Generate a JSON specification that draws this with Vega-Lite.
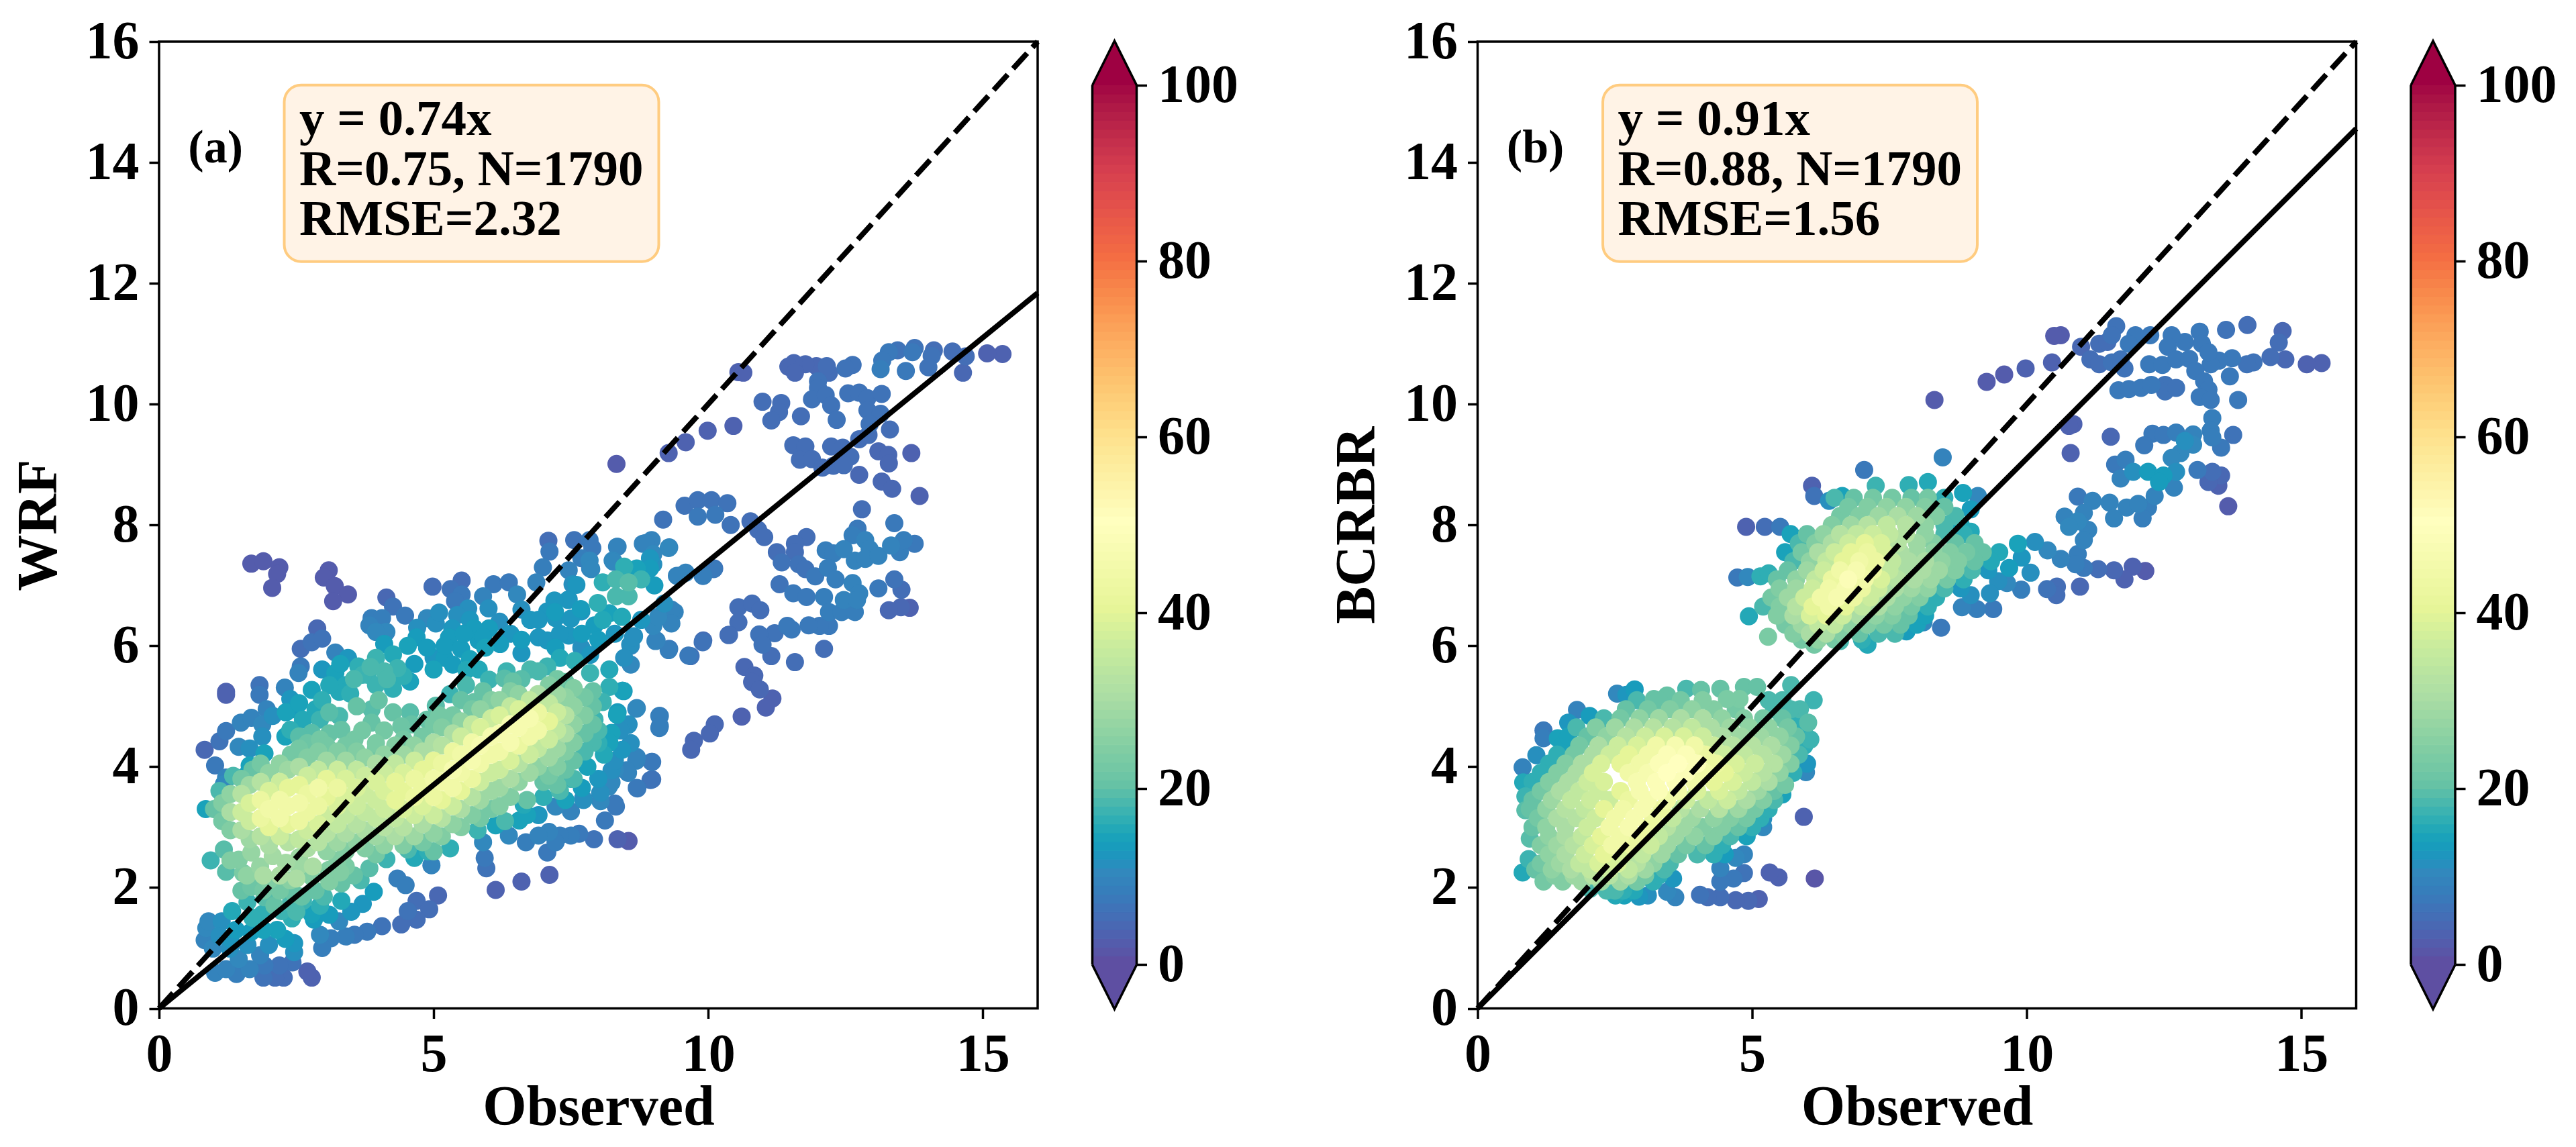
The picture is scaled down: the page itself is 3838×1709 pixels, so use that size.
{
"$schema":"https://vega.github.io/schema/vega-lite/v6.json",
"background":"white",
"padding":{"left":14,"top":20,"right":0,"bottom":0},
"bounds":"flush",
"spacing":81.5,
"config":{
"axis":{"labelFont":"Liberation Serif","labelFontWeight":"bold","labelFontSize":80,"labelColor":"#000","titleFont":"Liberation Serif","titleFontWeight":"bold","titleFontSize":84,"titleColor":"#000","tickColor":"#000","tickSize":15,"tickWidth":3.5,"grid":false,"domain":false,"labelOverlap":false,"labelFlush":false,"labelPadding":15},
"text":{"font":"Liberation Serif","fontWeight":"bold","color":"#000"}
},
"datasets":{
"a":[
{"x":15.36,"y":10.83,"d":3},{"x":15.08,"y":10.84,"d":3},{"x":14.69,"y":10.79,"d":5},{"x":14.45,"y":10.87,"d":5},{"x":14.64,"y":10.52,"d":4},{"x":14.11,"y":10.89,"d":5},{"x":14.07,"y":10.8,"d":6},{"x":14.01,"y":10.61,"d":6},{"x":13.76,"y":10.93,"d":6},{"x":13.72,"y":10.86,"d":7},{"x":13.6,"y":10.55,"d":7},{"x":13.45,"y":10.89,"d":6},{"x":13.29,"y":10.86,"d":7},{"x":13.17,"y":10.72,"d":7},{"x":13.14,"y":10.58,"d":8},{"x":12.63,"y":10.65,"d":6},{"x":12.5,"y":10.59,"d":6},{"x":12.2,"y":10.52,"d":5},{"x":12.16,"y":10.63,"d":5},{"x":11.97,"y":10.63,"d":4},{"x":11.77,"y":10.66,"d":4},{"x":11.56,"y":10.68,"d":4},{"x":11.46,"y":10.62,"d":4},{"x":11.58,"y":10.52,"d":4},{"x":12.0,"y":10.38,"d":6},{"x":12.0,"y":10.27,"d":6},{"x":10.55,"y":10.53,"d":3},{"x":10.64,"y":10.52,"d":3},
{"x":10.99,"y":10.04,"d":5},{"x":11.33,"y":10.02,"d":5},{"x":11.29,"y":9.87,"d":5},{"x":11.15,"y":9.73,"d":5},{"x":11.69,"y":9.8,"d":5},{"x":11.89,"y":10.08,"d":6},{"x":12.14,"y":10.15,"d":6},{"x":12.24,"y":9.98,"d":6},{"x":12.34,"y":9.74,"d":6},{"x":12.55,"y":10.18,"d":6},{"x":12.75,"y":10.19,"d":6},{"x":12.9,"y":10.1,"d":6},{"x":13.16,"y":10.17,"d":6},{"x":12.9,"y":9.9,"d":6},{"x":13.14,"y":9.84,"d":6},{"x":12.94,"y":9.67,"d":6},{"x":13.31,"y":9.58,"d":5},{"x":10.46,"y":9.64,"d":3},{"x":9.99,"y":9.56,"d":3},{"x":9.59,"y":9.37,"d":3},{"x":9.28,"y":9.19,"d":3},{"x":8.33,"y":9.01,"d":2},
{"x":11.55,"y":9.32,"d":5},{"x":11.77,"y":9.3,"d":5},{"x":11.67,"y":9.08,"d":5},{"x":11.89,"y":9.09,"d":5},{"x":12.08,"y":8.95,"d":5},{"x":12.28,"y":8.98,"d":5},{"x":12.24,"y":9.3,"d":5},{"x":12.45,"y":9.28,"d":5},{"x":12.59,"y":9.13,"d":5},{"x":12.47,"y":8.99,"d":5},{"x":12.75,"y":8.83,"d":4},{"x":12.75,"y":9.42,"d":5},{"x":12.92,"y":9.49,"d":5},{"x":13.1,"y":9.22,"d":4},{"x":13.28,"y":9.16,"d":4},{"x":13.29,"y":9.02,"d":4},{"x":13.7,"y":9.19,"d":3},{"x":13.16,"y":8.72,"d":4},{"x":13.35,"y":8.6,"d":4},{"x":13.85,"y":8.48,"d":3},
{"x":9.57,"y":8.32,"d":6},{"x":9.81,"y":8.41,"d":6},{"x":9.81,"y":8.14,"d":7},{"x":10.06,"y":8.41,"d":6},{"x":10.13,"y":8.17,"d":7},{"x":10.35,"y":8.36,"d":6},{"x":9.18,"y":8.09,"d":6},{"x":10.41,"y":8.0,"d":6},{"x":10.77,"y":8.06,"d":5},{"x":10.91,"y":7.92,"d":5},{"x":11.02,"y":7.8,"d":5},{"x":12.8,"y":8.26,"d":5},{"x":13.39,"y":8.03,"d":7},{"x":12.72,"y":7.94,"d":7},{"x":12.63,"y":7.83,"d":8},{"x":11.79,"y":7.8,"d":5},{"x":11.58,"y":7.69,"d":5},{"x":11.25,"y":7.55,"d":5},{"x":11.58,"y":7.55,"d":5},{"x":11.34,"y":7.38,"d":6},{"x":11.65,"y":7.35,"d":6},{"x":11.77,"y":7.27,"d":6},{"x":11.95,"y":7.15,"d":7},{"x":12.14,"y":7.58,"d":8},{"x":12.28,"y":7.53,"d":8},{"x":12.47,"y":7.6,"d":9},{"x":12.86,"y":7.75,"d":9},{"x":12.94,"y":7.6,"d":9},{"x":12.67,"y":7.41,"d":9},{"x":12.86,"y":7.44,"d":9},{"x":13.1,"y":7.49,"d":9},{"x":13.33,"y":7.66,"d":9},{"x":13.49,"y":7.55,"d":8},{"x":13.56,"y":7.75,"d":8},{"x":13.76,"y":7.69,"d":7},{"x":12.18,"y":7.29,"d":8},{"x":12.32,"y":7.1,"d":8},{"x":12.63,"y":7.04,"d":9},{"x":12.75,"y":6.87,"d":9},{"x":11.3,"y":7.02,"d":6},{"x":11.55,"y":6.87,"d":7},{"x":11.79,"y":6.81,"d":7},{"x":12.11,"y":6.81,"d":8},{"x":12.47,"y":6.76,"d":9},{"x":12.71,"y":6.76,"d":9},{"x":13.1,"y":6.95,"d":7},{"x":13.39,"y":7.1,"d":6},{"x":13.52,"y":6.93,"d":5},{"x":13.51,"y":6.64,"d":4},{"x":13.29,"y":6.59,"d":4},{"x":13.67,"y":6.63,"d":3},
{"x":10.55,"y":6.64,"d":5},{"x":10.8,"y":6.7,"d":5},{"x":10.95,"y":6.59,"d":5},{"x":10.55,"y":6.39,"d":5},{"x":10.37,"y":6.18,"d":5},{"x":9.9,"y":6.06,"d":6},{"x":12.2,"y":6.56,"d":8},{"x":12.43,"y":6.56,"d":8},{"x":12.67,"y":6.56,"d":8},{"x":12.2,"y":6.33,"d":7},{"x":12.03,"y":6.33,"d":7},{"x":11.83,"y":6.34,"d":7},{"x":11.52,"y":6.27,"d":7},{"x":11.44,"y":6.33,"d":7},{"x":11.21,"y":6.21,"d":6},{"x":10.93,"y":6.19,"d":6},{"x":10.99,"y":6.02,"d":6},{"x":11.15,"y":5.83,"d":5},{"x":11.58,"y":5.73,"d":5},{"x":12.11,"y":5.95,"d":5},{"x":10.66,"y":5.65,"d":4},{"x":10.84,"y":5.51,"d":4},{"x":10.8,"y":5.4,"d":4},{"x":10.94,"y":5.28,"d":4},{"x":11.17,"y":5.13,"d":3},{"x":11.05,"y":4.98,"d":3},{"x":10.61,"y":4.83,"d":3},{"x":10.12,"y":4.7,"d":4},{"x":10.03,"y":4.55,"d":4},{"x":9.74,"y":4.43,"d":4},{"x":9.69,"y":4.28,"d":4},
{"x":10.1,"y":7.27,"d":7},{"x":9.9,"y":7.16,"d":8},{"x":9.59,"y":7.21,"d":9},{"x":9.43,"y":7.16,"d":9},{"x":9.28,"y":7.62,"d":10},{"x":8.97,"y":7.75,"d":9},{"x":8.81,"y":7.69,"d":9},{"x":9.0,"y":7.52,"d":10},{"x":9.0,"y":7.35,"d":11},{"x":8.34,"y":7.64,"d":9},{"x":8.26,"y":7.41,"d":10},{"x":7.84,"y":7.75,"d":7},{"x":7.56,"y":7.75,"d":6},{"x":7.09,"y":7.74,"d":5},{"x":7.84,"y":7.41,"d":10},{"x":7.87,"y":7.27,"d":10},{"x":7.45,"y":6.76,"d":12},{"x":7.6,"y":7.01,"d":12},{"x":7.68,"y":6.61,"d":13},{"x":7.21,"y":6.56,"d":13},{"x":9.39,"y":6.56,"d":9},{"x":9.2,"y":6.7,"d":11},{"x":9.0,"y":6.33,"d":10},{"x":9.04,"y":6.08,"d":9},{"x":8.65,"y":6.16,"d":11},{"x":8.58,"y":6.02,"d":11},{"x":9.28,"y":5.93,"d":8},{"x":9.64,"y":5.84,"d":7},
{"x":8.69,"y":4.96,"d":10},{"x":9.11,"y":4.84,"d":8},{"x":9.11,"y":4.64,"d":8},{"x":8.44,"y":5.26,"d":14},{"x":8.54,"y":4.69,"d":11},{"x":8.34,"y":4.86,"d":14},{"x":8.97,"y":4.08,"d":7},{"x":8.95,"y":3.78,"d":6},{"x":8.71,"y":3.64,"d":7},{"x":8.69,"y":4.1,"d":9},{"x":8.54,"y":3.9,"d":9},{"x":8.3,"y":3.95,"d":10},{"x":8.19,"y":3.67,"d":10},{"x":8.03,"y":3.56,"d":10},{"x":7.72,"y":3.47,"d":10},{"x":8.3,"y":3.39,"d":7},
{"x":8.55,"y":7.05,"d":19},{"x":8.32,"y":7.1,"d":18},{"x":8.78,"y":7.1,"d":17},{"x":8.08,"y":7.05,"d":16},{"x":8.32,"y":6.82,"d":18},{"x":8.55,"y":6.82,"d":18},{"x":8.7,"y":7.28,"d":14},{"x":8.47,"y":7.31,"d":16},{"x":8.94,"y":7.28,"d":13},{"x":9.02,"y":7.0,"d":13},{"x":7.99,"y":6.71,"d":16},{"x":8.08,"y":6.43,"d":15},{"x":8.43,"y":6.48,"d":15},{"x":8.78,"y":6.43,"d":12},{"x":9.09,"y":6.48,"d":10},{"x":9.33,"y":6.6,"d":9},{"x":8.94,"y":7.45,"d":12},
{"x":1.68,"y":7.36,"d":2},{"x":1.9,"y":7.4,"d":2},{"x":2.19,"y":7.3,"d":2},{"x":2.15,"y":7.19,"d":2},{"x":2.06,"y":6.96,"d":2},{"x":3.09,"y":7.25,"d":2},{"x":3.0,"y":7.13,"d":2},{"x":3.2,"y":6.99,"d":2},{"x":3.44,"y":6.85,"d":2},{"x":3.17,"y":6.74,"d":2},{"x":4.14,"y":6.8,"d":4},{"x":4.26,"y":6.65,"d":6},{"x":4.48,"y":6.5,"d":7},{"x":4.98,"y":6.98,"d":5},{"x":5.51,"y":7.08,"d":5},{"x":5.31,"y":6.94,"d":6},{"x":5.51,"y":6.85,"d":7},{"x":5.39,"y":6.74,"d":7},{"x":6.09,"y":7.02,"d":7},{"x":6.37,"y":7.05,"d":7},{"x":5.9,"y":6.82,"d":9},{"x":6.52,"y":6.85,"d":10},{"x":6.0,"y":6.62,"d":11},{"x":5.63,"y":6.62,"d":11},{"x":5.43,"y":6.51,"d":11},{"x":5.66,"y":6.43,"d":12},{"x":4.88,"y":6.46,"d":10},{"x":5.04,"y":6.37,"d":11},{"x":5.34,"y":6.29,"d":12},{"x":5.28,"y":6.14,"d":13},{"x":6.01,"y":6.29,"d":13},{"x":5.74,"y":6.29,"d":13},{"x":5.82,"y":6.09,"d":13},{"x":6.21,"y":6.03,"d":13},{"x":5.94,"y":5.97,"d":14},{"x":4.69,"y":6.14,"d":13},{"x":4.53,"y":6.0,"d":14},{"x":4.88,"y":5.97,"d":13},{"x":5.2,"y":5.8,"d":13},{"x":5.66,"y":5.78,"d":14},{"x":5.35,"y":5.69,"d":13},{"x":5.0,"y":5.61,"d":14},{"x":5.82,"y":5.61,"d":15},{"x":6.01,"y":5.44,"d":17},{"x":6.29,"y":5.46,"d":19},{"x":6.33,"y":5.58,"d":17},{"x":6.6,"y":5.88,"d":12},{"x":6.76,"y":5.61,"d":18},{"x":6.91,"y":5.58,"d":18},{"x":7.07,"y":5.66,"d":17},{"x":7.3,"y":5.8,"d":15},{"x":7.57,"y":5.75,"d":16},{"x":7.69,"y":5.97,"d":11},{"x":7.22,"y":5.97,"d":13},{"x":6.91,"y":6.14,"d":12},{"x":7.07,"y":6.09,"d":12},{"x":6.76,"y":6.43,"d":12},{"x":7.07,"y":6.57,"d":12},{"x":6.91,"y":6.43,"d":12},{"x":7.22,"y":6.46,"d":12},{"x":7.46,"y":6.17,"d":12},{"x":7.46,"y":6.77,"d":11},{"x":6.87,"y":7.05,"d":9},{"x":6.99,"y":7.3,"d":8},{"x":7.11,"y":7.56,"d":7},{"x":7.46,"y":7.25,"d":9},{"x":7.53,"y":7.02,"d":11},{"x":7.69,"y":7.45,"d":8},{"x":7.85,"y":7.28,"d":9},{"x":7.89,"y":7.62,"d":7},{"x":8.28,"y":7.39,"d":10},{"x":8.35,"y":7.64,"d":9},{"x":8.86,"y":7.7,"d":9},{"x":9.29,"y":7.63,"d":9},{"x":7.69,"y":6.57,"d":12},{"x":7.93,"y":6.34,"d":13},{"x":8.2,"y":6.54,"d":14},{"x":8.63,"y":6.14,"d":11},{"x":8.59,"y":6.0,"d":10},{"x":9.06,"y":6.09,"d":9},{"x":9.29,"y":5.95,"d":7},{"x":9.68,"y":5.83,"d":6},{"x":9.91,"y":6.09,"d":5},{"x":10.38,"y":6.18,"d":5},{"x":10.11,"y":7.28,"d":6},{"x":9.91,"y":7.16,"d":8},{"x":9.48,"y":7.16,"d":8},{"x":9.33,"y":6.37,"d":9},
{"x":0.83,"y":4.28,"d":4},{"x":1.1,"y":4.42,"d":6},{"x":1.22,"y":4.59,"d":7},{"x":1.49,"y":4.73,"d":9},{"x":1.68,"y":4.81,"d":9},{"x":1.88,"y":4.7,"d":10},{"x":1.88,"y":4.5,"d":11},{"x":1.45,"y":4.33,"d":10},{"x":1.65,"y":4.3,"d":11},{"x":1.92,"y":4.22,"d":14},{"x":1.02,"y":4.02,"d":7},{"x":1.22,"y":3.82,"d":9},{"x":1.18,"y":3.71,"d":10},{"x":1.65,"y":4.02,"d":14},{"x":1.61,"y":3.88,"d":14},{"x":1.96,"y":4.95,"d":9},{"x":2.07,"y":4.84,"d":11},{"x":1.22,"y":5.24,"d":3},{"x":1.22,"y":5.19,"d":3},{"x":1.83,"y":5.35,"d":6},{"x":1.83,"y":5.19,"d":7},{"x":2.29,"y":5.31,"d":9},{"x":2.39,"y":5.12,"d":12},{"x":2.47,"y":4.95,"d":13},{"x":2.78,"y":5.27,"d":14},{"x":2.97,"y":5.1,"d":16},{"x":2.58,"y":5.95,"d":5},{"x":2.78,"y":6.06,"d":6},{"x":2.97,"y":6.12,"d":6},{"x":2.88,"y":6.29,"d":4},{"x":2.58,"y":5.66,"d":7},{"x":2.54,"y":5.55,"d":9},{"x":3.21,"y":5.89,"d":9},{"x":2.97,"y":5.61,"d":12},{"x":3.21,"y":5.55,"d":14},{"x":3.44,"y":5.8,"d":12},{"x":3.4,"y":5.35,"d":15},{"x":3.28,"y":5.24,"d":15},{"x":3.63,"y":5.66,"d":16},{"x":3.95,"y":5.8,"d":17},{"x":4.26,"y":5.86,"d":15},{"x":3.79,"y":5.52,"d":17},{"x":4.1,"y":5.58,"d":18},{"x":4.34,"y":5.63,"d":17},{"x":3.95,"y":5.35,"d":17},{"x":4.26,"y":5.29,"d":16},{"x":4.57,"y":5.41,"d":14},{"x":3.48,"y":5.21,"d":16},{"x":3.71,"y":5.52,"d":17},{"x":4.1,"y":6.03,"d":13},{"x":3.87,"y":6.46,"d":8},{"x":3.83,"y":6.34,"d":9},{"x":4.06,"y":6.46,"d":8},{"x":4.14,"y":6.23,"d":10},{"x":3.95,"y":6.23,"d":10},
{"x":2.31,"y":4.9,"d":14},{"x":2.62,"y":4.78,"d":15},{"x":2.93,"y":4.78,"d":17},{"x":3.28,"y":4.84,"d":18},{"x":2.39,"y":4.61,"d":16},{"x":2.78,"y":4.56,"d":19},{"x":3.32,"y":4.61,"d":20},{"x":3.87,"y":4.95,"d":19},{"x":3.87,"y":4.73,"d":20},{"x":4.26,"y":4.9,"d":20},{"x":4.57,"y":4.9,"d":19},{"x":5.04,"y":5.01,"d":19},{"x":4.41,"y":4.67,"d":21},{"x":2.7,"y":4.39,"d":21},{"x":2.93,"y":4.45,"d":22},{"x":3.56,"y":4.45,"d":22},{"x":3.95,"y":4.39,"d":23},{"x":4.88,"y":4.78,"d":20},{"x":5.35,"y":4.78,"d":22},{"x":5.74,"y":5.07,"d":20},{"x":5.59,"y":5.35,"d":18},{"x":6.44,"y":5.41,"d":20},{"x":8.2,"y":5.61,"d":15},{"x":7.85,"y":5.55,"d":17},{"x":8.47,"y":5.8,"d":11},{"x":8.59,"y":5.69,"d":10},{"x":8.08,"y":5.07,"d":17},{"x":8.2,"y":5.32,"d":16},{"x":8.46,"y":5.25,"d":13},{"x":8.35,"y":4.9,"d":13},{"x":8.7,"y":4.97,"d":9},{"x":9.12,"y":4.84,"d":8},{"x":9.12,"y":4.67,"d":8},{"x":8.55,"y":4.7,"d":11},{"x":8.59,"y":4.39,"d":11},{"x":8.43,"y":4.28,"d":12},{"x":8.24,"y":4.56,"d":14},{"x":7.93,"y":4.78,"d":17},{"x":8.0,"y":4.39,"d":16},{"x":8.98,"y":4.08,"d":7},{"x":8.7,"y":4.16,"d":9},{"x":8.98,"y":3.79,"d":6},{"x":8.7,"y":3.65,"d":7},{"x":8.51,"y":3.94,"d":9},{"x":8.24,"y":3.94,"d":11},{"x":8.24,"y":3.74,"d":10},{"x":8.04,"y":3.57,"d":11},{"x":7.73,"y":3.45,"d":11},{"x":8.04,"y":3.43,"d":10},{"x":8.32,"y":3.34,"d":7},{"x":8.12,"y":3.11,"d":7},{"x":7.92,"y":2.8,"d":6},{"x":8.35,"y":2.8,"d":3},{"x":8.55,"y":2.77,"d":2},{"x":7.65,"y":2.89,"d":7},{"x":7.5,"y":3.26,"d":9},{"x":7.22,"y":3.34,"d":10},{"x":7.5,"y":2.86,"d":8},{"x":7.3,"y":2.86,"d":8},{"x":7.1,"y":2.92,"d":9},{"x":6.91,"y":2.86,"d":9},{"x":6.68,"y":2.75,"d":8},{"x":7.07,"y":2.58,"d":7},{"x":7.22,"y":2.75,"d":8},{"x":6.91,"y":3.2,"d":12},{"x":6.64,"y":3.37,"d":15},{"x":6.56,"y":3.11,"d":14},{"x":6.37,"y":2.86,"d":10},{"x":6.13,"y":3.03,"d":14},{"x":5.9,"y":2.75,"d":10},{"x":5.93,"y":2.49,"d":7},{"x":5.96,"y":2.32,"d":6},{"x":7.11,"y":2.21,"d":3},{"x":6.6,"y":2.1,"d":3},{"x":6.13,"y":1.96,"d":3},{"x":4.96,"y":2.37,"d":9},{"x":4.34,"y":2.15,"d":8},{"x":4.49,"y":2.04,"d":8},{"x":5.08,"y":1.87,"d":4},{"x":4.69,"y":1.78,"d":5},{"x":4.92,"y":1.64,"d":5},{"x":4.53,"y":1.61,"d":6},{"x":4.69,"y":1.47,"d":5},{"x":4.41,"y":1.39,"d":5},{"x":4.06,"y":1.36,"d":6},{"x":3.79,"y":1.27,"d":7},{"x":3.56,"y":1.22,"d":7},{"x":3.4,"y":1.19,"d":8},{"x":3.13,"y":1.16,"d":8},{"x":2.97,"y":1.0,"d":8},{"x":3.28,"y":1.44,"d":10},{"x":2.93,"y":1.22,"d":10},{"x":2.82,"y":1.47,"d":13},
{"x":2.78,"y":0.51,"d":3},{"x":2.7,"y":0.61,"d":3},{"x":2.27,"y":0.51,"d":5},{"x":2.43,"y":0.76,"d":6},{"x":2.11,"y":0.51,"d":5},{"x":1.9,"y":0.51,"d":6},{"x":2.19,"y":0.71,"d":6},{"x":1.92,"y":0.71,"d":7},{"x":1.41,"y":0.57,"d":8},{"x":1.02,"y":0.59,"d":9},{"x":1.65,"y":0.65,"d":9},{"x":1.22,"y":0.65,"d":9},{"x":0.83,"y":1.13,"d":9},{"x":0.86,"y":1.33,"d":10},{"x":0.9,"y":1.44,"d":10},{"x":1.14,"y":1.44,"d":11},{"x":0.98,"y":0.99,"d":10},{"x":1.29,"y":0.99,"d":11},{"x":1.61,"y":1.05,"d":11},{"x":2.0,"y":1.05,"d":11},{"x":1.45,"y":0.82,"d":10},{"x":1.84,"y":0.88,"d":9},{"x":2.46,"y":1.08,"d":12},{"x":2.46,"y":0.93,"d":11},{"x":2.15,"y":1.3,"d":14},{"x":2.42,"y":1.49,"d":16},{"x":1.68,"y":1.27,"d":13},{"x":1.33,"y":1.61,"d":15},{"x":1.61,"y":1.76,"d":17},{"x":1.92,"y":1.84,"d":19},{"x":1.88,"y":1.56,"d":16},{"x":2.23,"y":1.61,"d":17},{"x":2.62,"y":1.78,"d":17},{"x":2.93,"y":1.7,"d":16},{"x":3.32,"y":1.78,"d":15},{"x":3.71,"y":1.73,"d":12},{"x":3.91,"y":1.93,"d":13},{"x":2.78,"y":1.56,"d":14},
{"x":1.18,"y":2.63,"d":19},{"x":0.94,"y":2.45,"d":17},{"x":1.22,"y":2.26,"d":19},{"x":1.45,"y":2.46,"d":24},{"x":1.68,"y":2.58,"d":27},{"x":1.53,"y":2.24,"d":23},{"x":1.84,"y":2.35,"d":27},{"x":2.07,"y":2.52,"d":29},{"x":2.31,"y":2.41,"d":29},{"x":2.54,"y":2.35,"d":28},{"x":1.68,"y":2.01,"d":21},{"x":2.0,"y":2.12,"d":24},{"x":2.39,"y":2.12,"d":25},{"x":2.78,"y":2.18,"d":24},{"x":3.09,"y":2.29,"d":24},{"x":3.4,"y":2.35,"d":23},{"x":3.83,"y":2.32,"d":19},{"x":3.67,"y":2.12,"d":18},{"x":3.32,"y":2.07,"d":20},{"x":2.85,"y":1.95,"d":20},{"x":2.46,"y":1.9,"d":20},{"x":4.14,"y":2.47,"d":17},{"x":4.65,"y":2.49,"d":15},{"x":4.53,"y":2.63,"d":18},
{"x":1.0,"y":3.3,"d":20},{"x":0.85,"y":3.3,"d":14},{"x":1.1,"y":3.6,"d":18},{"x":1.3,"y":2.95,"d":24},{"x":1.3,"y":3.25,"d":30},{"x":1.3,"y":3.55,"d":26},{"x":1.35,"y":3.85,"d":18},{"x":1.65,"y":2.8,"d":28},{"x":1.65,"y":3.1,"d":36},{"x":1.65,"y":3.4,"d":38},{"x":1.65,"y":3.7,"d":28},{"x":1.7,"y":3.95,"d":20},{"x":2.0,"y":2.7,"d":30},{"x":2.0,"y":3.0,"d":40},{"x":2.0,"y":3.3,"d":44},{"x":2.0,"y":3.6,"d":38},{"x":2.0,"y":3.9,"d":26},{"x":2.35,"y":2.75,"d":32},{"x":2.35,"y":3.05,"d":40},{"x":2.35,"y":3.35,"d":44},{"x":2.35,"y":3.65,"d":40},{"x":2.35,"y":3.95,"d":28},{"x":2.4,"y":4.2,"d":22},{"x":2.7,"y":2.65,"d":30},{"x":2.7,"y":2.95,"d":36},{"x":2.7,"y":3.25,"d":42},{"x":2.7,"y":3.55,"d":42},{"x":2.7,"y":3.85,"d":36},{"x":2.7,"y":4.15,"d":24},{"x":3.05,"y":2.6,"d":26},{"x":3.05,"y":2.9,"d":32},{"x":3.05,"y":3.2,"d":36},{"x":3.05,"y":3.5,"d":40},{"x":3.05,"y":3.8,"d":40},{"x":3.05,"y":4.1,"d":28},{"x":3.05,"y":4.35,"d":22},{"x":3.4,"y":2.6,"d":24},{"x":3.4,"y":2.9,"d":30},{"x":3.4,"y":3.2,"d":34},{"x":3.4,"y":3.5,"d":38},{"x":3.4,"y":3.8,"d":38},{"x":3.4,"y":4.1,"d":28},{"x":3.4,"y":4.35,"d":22},{"x":3.75,"y":2.65,"d":24},{"x":3.75,"y":2.95,"d":30},{"x":3.75,"y":3.25,"d":34},{"x":3.75,"y":3.55,"d":36},{"x":3.75,"y":3.85,"d":36},{"x":3.75,"y":4.15,"d":26},{"x":4.1,"y":2.7,"d":26},{"x":4.1,"y":3.0,"d":32},{"x":4.1,"y":3.3,"d":36},{"x":4.1,"y":3.6,"d":38},{"x":4.1,"y":3.9,"d":36},{"x":4.1,"y":4.2,"d":26},{"x":4.45,"y":2.7,"d":24},{"x":4.45,"y":3.0,"d":32},{"x":4.45,"y":3.3,"d":38},{"x":4.45,"y":3.6,"d":40},{"x":4.45,"y":3.9,"d":38},{"x":4.45,"y":4.2,"d":28},{"x":4.45,"y":4.45,"d":22},{"x":4.8,"y":2.75,"d":22},{"x":4.8,"y":3.05,"d":30},{"x":4.8,"y":3.35,"d":38},{"x":4.8,"y":3.65,"d":42},{"x":4.8,"y":3.95,"d":40},{"x":4.8,"y":4.25,"d":30},{"x":4.8,"y":4.5,"d":22},{"x":5.15,"y":2.85,"d":24},{"x":5.15,"y":3.15,"d":32},{"x":5.15,"y":3.45,"d":40},{"x":5.15,"y":3.75,"d":44},{"x":5.15,"y":4.05,"d":42},{"x":5.15,"y":4.35,"d":32},{"x":5.15,"y":4.65,"d":24},{"x":5.5,"y":3.0,"d":24},{"x":5.5,"y":3.3,"d":30},{"x":5.5,"y":3.6,"d":40},{"x":5.5,"y":3.9,"d":44},{"x":5.5,"y":4.2,"d":44},{"x":5.5,"y":4.5,"d":36},{"x":5.5,"y":4.75,"d":26},{"x":5.85,"y":3.15,"d":22},{"x":5.85,"y":3.45,"d":28},{"x":5.85,"y":3.75,"d":36},{"x":5.85,"y":4.05,"d":44},{"x":5.85,"y":4.35,"d":46},{"x":5.85,"y":4.65,"d":38},{"x":5.85,"y":4.95,"d":26},{"x":6.2,"y":3.35,"d":24},{"x":6.2,"y":3.65,"d":28},{"x":6.2,"y":3.95,"d":36},{"x":6.2,"y":4.25,"d":44},{"x":6.2,"y":4.55,"d":46},{"x":6.2,"y":4.85,"d":38},{"x":6.2,"y":5.1,"d":26},{"x":6.55,"y":3.75,"d":26},{"x":6.55,"y":4.05,"d":32},{"x":6.55,"y":4.35,"d":42},{"x":6.55,"y":4.65,"d":46},{"x":6.55,"y":4.95,"d":38},{"x":6.55,"y":5.2,"d":26},{"x":6.9,"y":4.0,"d":26},{"x":6.9,"y":4.3,"d":34},{"x":6.9,"y":4.6,"d":44},{"x":6.9,"y":4.9,"d":42},{"x":6.9,"y":5.2,"d":30},{"x":7.25,"y":3.7,"d":20},{"x":7.25,"y":4.0,"d":24},{"x":7.25,"y":4.3,"d":28},{"x":7.25,"y":4.6,"d":34},{"x":7.25,"y":4.9,"d":36},{"x":7.25,"y":5.2,"d":28},{"x":7.25,"y":5.45,"d":22},{"x":7.55,"y":3.8,"d":18},{"x":7.55,"y":4.1,"d":20},{"x":7.55,"y":4.4,"d":24},{"x":7.55,"y":4.7,"d":26},{"x":7.55,"y":5.0,"d":26},{"x":7.55,"y":5.3,"d":24},{"x":7.9,"y":4.4,"d":18},{"x":7.9,"y":4.7,"d":20},{"x":7.9,"y":5.0,"d":20},{"x":7.9,"y":5.25,"d":20},{"x":7.0,"y":3.75,"d":20},{"x":7.3,"y":3.6,"d":18},{"x":7.5,"y":3.8,"d":16},{"x":6.7,"y":3.45,"d":20},
{"x":1.15,"y":3.1,"d":22},{"x":1.15,"y":3.4,"d":24},{"x":1.5,"y":2.95,"d":30},{"x":1.5,"y":3.25,"d":36},{"x":1.5,"y":3.55,"d":32},{"x":1.5,"y":3.8,"d":22},{"x":1.85,"y":2.85,"d":32},{"x":1.85,"y":3.15,"d":42},{"x":1.85,"y":3.45,"d":42},{"x":1.85,"y":3.75,"d":32},{"x":1.85,"y":4.05,"d":22},{"x":2.2,"y":2.85,"d":36},{"x":2.2,"y":3.15,"d":44},{"x":2.2,"y":3.45,"d":44},{"x":2.2,"y":3.75,"d":36},{"x":2.2,"y":4.05,"d":26},{"x":2.55,"y":2.5,"d":28},{"x":2.55,"y":2.8,"d":34},{"x":2.55,"y":3.1,"d":42},{"x":2.55,"y":3.4,"d":44},{"x":2.55,"y":3.7,"d":40},{"x":2.55,"y":4.0,"d":30},{"x":2.55,"y":4.3,"d":22},{"x":2.9,"y":2.75,"d":32},{"x":2.9,"y":3.05,"d":38},{"x":2.9,"y":3.35,"d":42},{"x":2.9,"y":3.65,"d":44},{"x":2.9,"y":3.95,"d":34},{"x":2.9,"y":4.25,"d":24},{"x":3.25,"y":2.45,"d":24},{"x":3.25,"y":2.75,"d":28},{"x":3.25,"y":3.05,"d":34},{"x":3.25,"y":3.35,"d":38},{"x":3.25,"y":3.65,"d":42},{"x":3.25,"y":3.95,"d":36},{"x":3.25,"y":4.25,"d":24},{"x":3.6,"y":2.75,"d":26},{"x":3.6,"y":3.05,"d":32},{"x":3.6,"y":3.35,"d":36},{"x":3.6,"y":3.65,"d":38},{"x":3.6,"y":3.95,"d":34},{"x":3.6,"y":4.25,"d":24},{"x":3.95,"y":2.55,"d":22},{"x":3.95,"y":2.85,"d":28},{"x":3.95,"y":3.15,"d":34},{"x":3.95,"y":3.45,"d":36},{"x":3.95,"y":3.75,"d":38},{"x":3.95,"y":4.05,"d":30},{"x":3.95,"y":4.3,"d":22},{"x":4.3,"y":2.85,"d":30},{"x":4.3,"y":3.15,"d":34},{"x":4.3,"y":3.45,"d":40},{"x":4.3,"y":3.75,"d":40},{"x":4.3,"y":4.05,"d":34},{"x":4.3,"y":4.35,"d":24},{"x":4.65,"y":2.85,"d":28},{"x":4.65,"y":3.2,"d":36},{"x":4.65,"y":3.5,"d":42},{"x":4.65,"y":3.8,"d":42},{"x":4.65,"y":4.1,"d":36},{"x":4.65,"y":4.35,"d":26},{"x":5.0,"y":2.6,"d":20},{"x":5.0,"y":2.9,"d":26},{"x":5.0,"y":3.2,"d":36},{"x":5.0,"y":3.5,"d":42},{"x":5.0,"y":3.8,"d":44},{"x":5.0,"y":4.1,"d":40},{"x":5.0,"y":4.4,"d":30},{"x":5.0,"y":4.7,"d":22},{"x":5.35,"y":3.05,"d":26},{"x":5.35,"y":3.35,"d":36},{"x":5.35,"y":3.65,"d":44},{"x":5.35,"y":3.95,"d":46},{"x":5.35,"y":4.25,"d":42},{"x":5.35,"y":4.55,"d":30},{"x":5.35,"y":4.85,"d":22},{"x":5.7,"y":3.2,"d":24},{"x":5.7,"y":3.5,"d":32},{"x":5.7,"y":3.8,"d":42},{"x":5.7,"y":4.1,"d":46},{"x":5.7,"y":4.4,"d":44},{"x":5.7,"y":4.7,"d":34},{"x":5.7,"y":4.95,"d":22},{"x":6.05,"y":3.3,"d":22},{"x":6.05,"y":3.6,"d":28},{"x":6.05,"y":3.9,"d":36},{"x":6.05,"y":4.2,"d":44},{"x":6.05,"y":4.5,"d":46},{"x":6.05,"y":4.8,"d":36},{"x":6.05,"y":5.1,"d":24},{"x":6.4,"y":3.5,"d":24},{"x":6.4,"y":3.8,"d":30},{"x":6.4,"y":4.1,"d":38},{"x":6.4,"y":4.4,"d":46},{"x":6.4,"y":4.7,"d":46},{"x":6.4,"y":5.0,"d":34},{"x":6.4,"y":5.25,"d":24},{"x":6.75,"y":3.9,"d":28},{"x":6.75,"y":4.2,"d":36},{"x":6.75,"y":4.5,"d":44},{"x":6.75,"y":4.8,"d":46},{"x":6.75,"y":5.1,"d":34},{"x":7.1,"y":3.85,"d":22},{"x":7.1,"y":4.15,"d":28},{"x":7.1,"y":4.45,"d":36},{"x":7.1,"y":4.75,"d":40},{"x":7.1,"y":5.05,"d":34},{"x":7.1,"y":5.35,"d":24},{"x":7.4,"y":3.95,"d":20},{"x":7.4,"y":4.25,"d":24},{"x":7.4,"y":4.55,"d":30},{"x":7.4,"y":4.85,"d":32},{"x":7.4,"y":5.15,"d":26},{"x":7.4,"y":5.4,"d":20},{"x":7.75,"y":4.25,"d":18},{"x":7.75,"y":4.55,"d":20},{"x":7.75,"y":4.85,"d":24},{"x":7.75,"y":5.15,"d":22},
{"x":1.3,"y":2.45,"d":24},{"x":1.6,"y":2.2,"d":26},{"x":1.9,"y":2.2,"d":30},{"x":2.2,"y":2.2,"d":30},{"x":2.5,"y":2.15,"d":30},{"x":2.8,"y":2.35,"d":30},{"x":3.1,"y":2.1,"d":24},{"x":3.3,"y":2.25,"d":24},{"x":3.55,"y":2.2,"d":20},{"x":1.5,"y":1.95,"d":20},{"x":1.9,"y":1.95,"d":22},{"x":2.2,"y":1.95,"d":22},{"x":2.6,"y":1.85,"d":20},{"x":3.0,"y":1.85,"d":18},{"x":2.1,"y":1.7,"d":20},{"x":2.5,"y":1.6,"d":18},{"x":2.4,"y":1.75,"d":18},{"x":3.1,"y":1.55,"d":13},{"x":3.5,"y":1.6,"d":12},{"x":1.7,"y":1.5,"d":16},{"x":1.4,"y":1.3,"d":13},{"x":1.1,"y":1.2,"d":11},{"x":1.3,"y":1.15,"d":12},{"x":1.9,"y":1.3,"d":14},{"x":2.3,"y":1.15,"d":13},
{"x":3.1,"y":5.35,"d":15},{"x":3.55,"y":5.45,"d":18},{"x":3.3,"y":5.7,"d":14},{"x":3.85,"y":5.65,"d":18},{"x":4.15,"y":5.45,"d":18},{"x":4.45,"y":5.5,"d":16},{"x":4.65,"y":5.7,"d":13},{"x":3.6,"y":5.0,"d":20},{"x":4.0,"y":5.1,"d":20},{"x":3.1,"y":4.9,"d":19},{"x":2.55,"y":5.05,"d":14},{"x":2.85,"y":4.95,"d":15},{"x":2.3,"y":4.5,"d":14},{"x":2.55,"y":4.5,"d":19},{"x":3.1,"y":4.55,"d":20},{"x":3.7,"y":4.6,"d":22},{"x":4.1,"y":4.6,"d":22},{"x":4.6,"y":4.7,"d":20},{"x":5.1,"y":4.85,"d":22},{"x":5.5,"y":5.1,"d":20},{"x":5.9,"y":5.25,"d":20},{"x":6.6,"y":5.45,"d":19},{"x":5.3,"y":5.2,"d":17},{"x":5.6,"y":5.6,"d":15},{"x":5.2,"y":6.0,"d":13},{"x":5.5,"y":5.95,"d":13},{"x":5.0,"y":5.8,"d":12},{"x":5.55,"y":6.2,"d":13},{"x":5.9,"y":6.15,"d":13},{"x":5.1,"y":6.55,"d":11},{"x":4.7,"y":6.3,"d":11},{"x":6.4,"y":6.2,"d":12},{"x":6.2,"y":6.4,"d":11},{"x":6.6,"y":6.1,"d":13},{"x":6.6,"y":6.6,"d":11},{"x":7.3,"y":6.2,"d":12},{"x":7.5,"y":6.45,"d":12},{"x":7.2,"y":6.75,"d":12},{"x":8.0,"y":6.1,"d":13},{"x":7.7,"y":6.2,"d":13},{"x":8.3,"y":6.2,"d":12},{"x":7.85,"y":5.85,"d":12},
{"x":8.0,"y":4.6,"d":18},{"x":8.1,"y":4.2,"d":15},{"x":8.2,"y":4.4,"d":14},{"x":7.8,"y":4.0,"d":14},{"x":8.0,"y":3.8,"d":12},{"x":7.7,"y":3.65,"d":13},{"x":7.4,"y":3.45,"d":14},{"x":7.0,"y":3.5,"d":16},{"x":6.7,"y":3.2,"d":14},{"x":6.3,"y":3.1,"d":18},{"x":5.8,"y":2.95,"d":17},{"x":5.3,"y":2.65,"d":16},{"x":4.9,"y":2.6,"d":16},{"x":8.3,"y":4.1,"d":11},{"x":8.4,"y":4.6,"d":11}
],
"b":[
{"x":15.37,"y":10.68,"d":3},{"x":15.1,"y":10.66,"d":3},{"x":14.71,"y":10.74,"d":4},{"x":14.44,"y":10.78,"d":5},{"x":14.59,"y":11.02,"d":5},{"x":14.66,"y":11.21,"d":4},{"x":14.02,"y":11.31,"d":5},{"x":13.63,"y":11.23,"d":6},{"x":14.13,"y":10.69,"d":6},{"x":14.01,"y":10.66,"d":6},{"x":13.74,"y":10.76,"d":7},{"x":13.5,"y":10.72,"d":7},{"x":13.35,"y":10.66,"d":7},{"x":13.7,"y":10.46,"d":7},{"x":13.85,"y":10.07,"d":7},{"x":13.15,"y":11.2,"d":7},{"x":13.19,"y":11.0,"d":7},{"x":13.31,"y":10.86,"d":7},{"x":12.88,"y":11.03,"d":7},{"x":12.64,"y":11.14,"d":7},{"x":12.57,"y":10.95,"d":7},{"x":12.25,"y":11.14,"d":7},{"x":11.98,"y":11.14,"d":7},{"x":11.86,"y":11.0,"d":7},{"x":11.63,"y":11.29,"d":6},{"x":11.55,"y":11.14,"d":6},{"x":11.32,"y":11.0,"d":5},{"x":11.47,"y":11.03,"d":5},{"x":10.62,"y":11.14,"d":2},{"x":10.5,"y":11.13,"d":2},{"x":10.99,"y":10.95,"d":4},{"x":10.46,"y":10.69,"d":3},{"x":9.98,"y":10.59,"d":3},{"x":9.59,"y":10.49,"d":2},{"x":9.27,"y":10.37,"d":2},{"x":8.32,"y":10.07,"d":2},
{"x":11.16,"y":10.74,"d":5},{"x":11.32,"y":10.66,"d":5},{"x":11.55,"y":10.69,"d":6},{"x":11.71,"y":10.74,"d":6},{"x":11.78,"y":10.59,"d":6},{"x":12.23,"y":10.66,"d":7},{"x":12.47,"y":10.65,"d":7},{"x":12.72,"y":10.74,"d":7},{"x":12.96,"y":10.75,"d":7},{"x":13.07,"y":10.55,"d":7},{"x":13.23,"y":10.38,"d":7},{"x":13.31,"y":10.24,"d":7},{"x":13.15,"y":10.12,"d":7},{"x":13.35,"y":10.07,"d":7},{"x":11.67,"y":10.23,"d":7},{"x":11.86,"y":10.25,"d":7},{"x":12.08,"y":10.27,"d":7},{"x":12.27,"y":10.32,"d":7},{"x":12.52,"y":10.32,"d":6},{"x":12.52,"y":10.21,"d":6},{"x":12.72,"y":10.27,"d":6},
{"x":10.85,"y":9.67,"d":3},{"x":10.77,"y":9.64,"d":3},{"x":11.53,"y":9.46,"d":4},{"x":10.8,"y":9.19,"d":3},{"x":13.38,"y":9.77,"d":8},{"x":13.35,"y":9.56,"d":8},{"x":13.38,"y":9.45,"d":8},{"x":13.54,"y":9.28,"d":7},{"x":13.76,"y":9.49,"d":6},{"x":12.29,"y":9.51,"d":7},{"x":12.49,"y":9.49,"d":7},{"x":12.72,"y":9.53,"d":8},{"x":13.03,"y":9.5,"d":9},{"x":12.14,"y":9.32,"d":7},{"x":12.88,"y":9.39,"d":11},{"x":13.03,"y":9.33,"d":10},{"x":12.8,"y":9.19,"d":10},{"x":12.64,"y":9.11,"d":10},{"x":11.61,"y":9.0,"d":7},{"x":11.8,"y":9.08,"d":8},{"x":11.71,"y":8.77,"d":9},{"x":11.94,"y":8.88,"d":11},{"x":12.21,"y":8.88,"d":13},{"x":12.49,"y":8.82,"d":13},{"x":12.72,"y":8.88,"d":11},{"x":12.68,"y":8.62,"d":9},{"x":12.33,"y":8.48,"d":9},{"x":12.41,"y":8.71,"d":13},{"x":13.11,"y":8.91,"d":7},{"x":13.38,"y":8.88,"d":5},{"x":13.54,"y":8.82,"d":4},{"x":13.31,"y":8.71,"d":4},{"x":13.49,"y":8.65,"d":3},{"x":13.67,"y":8.31,"d":2},
{"x":10.93,"y":8.47,"d":7},{"x":11.2,"y":8.4,"d":9},{"x":11.51,"y":8.37,"d":9},{"x":11.82,"y":8.29,"d":9},{"x":12.03,"y":8.35,"d":9},{"x":12.21,"y":8.29,"d":8},{"x":12.11,"y":8.11,"d":8},{"x":11.59,"y":8.11,"d":9},{"x":10.69,"y":8.14,"d":9},{"x":11.04,"y":8.2,"d":9},{"x":10.93,"y":8.06,"d":10},{"x":10.77,"y":7.97,"d":10},{"x":11.12,"y":7.92,"d":9},{"x":11.04,"y":7.75,"d":9},{"x":10.93,"y":7.52,"d":8},{"x":10.62,"y":7.44,"d":9},{"x":10.89,"y":7.35,"d":8},{"x":11.04,"y":7.29,"d":7},{"x":11.3,"y":7.27,"d":5},{"x":11.59,"y":7.25,"d":4},{"x":11.93,"y":7.31,"d":3},{"x":12.16,"y":7.24,"d":2},{"x":11.78,"y":7.1,"d":3},{"x":10.97,"y":6.98,"d":4},{"x":10.55,"y":6.98,"d":5},{"x":10.54,"y":6.84,"d":5},{"x":10.37,"y":6.94,"d":6},{"x":9.9,"y":6.93,"d":8},
{"x":10.38,"y":7.58,"d":10},{"x":10.15,"y":7.72,"d":11},{"x":9.84,"y":7.69,"d":14},{"x":10.07,"y":7.21,"d":11},{"x":9.68,"y":7.29,"d":13},{"x":9.91,"y":7.46,"d":12},{"x":9.48,"y":7.07,"d":11},{"x":9.64,"y":7.04,"d":10},{"x":9.39,"y":6.61,"d":7},{"x":9.09,"y":6.61,"d":8},{"x":8.82,"y":6.64,"d":9},{"x":9.33,"y":6.87,"d":11},{"x":8.98,"y":6.84,"d":11},{"x":8.44,"y":6.3,"d":7},{"x":8.12,"y":6.39,"d":10},{"x":7.81,"y":6.24,"d":13},{"x":7.65,"y":6.27,"d":14},{"x":7.1,"y":6.02,"d":15},{"x":6.6,"y":6.08,"d":18},{"x":6.13,"y":6.02,"d":22},{"x":5.29,"y":6.15,"d":23},{"x":4.94,"y":6.49,"d":15},{"x":4.73,"y":7.13,"d":7},{"x":4.92,"y":7.14,"d":10},{"x":5.15,"y":7.15,"d":16},{"x":4.89,"y":7.97,"d":3},{"x":5.23,"y":7.97,"d":5},{"x":5.51,"y":7.97,"d":7},{"x":6.09,"y":8.65,"d":3},{"x":6.13,"y":8.48,"d":6},{"x":7.04,"y":8.91,"d":7},{"x":8.47,"y":9.12,"d":9},{"x":9.11,"y":8.48,"d":10},{"x":8.84,"y":8.53,"d":14},{"x":8.2,"y":8.71,"d":15},{"x":7.85,"y":8.66,"d":16},{"x":7.25,"y":8.65,"d":17},{"x":6.64,"y":8.48,"d":14},{"x":6.4,"y":8.4,"d":11},{"x":8.98,"y":8.26,"d":13},{"x":8.98,"y":7.89,"d":15},
{"x":6.5,"y":8.45,"d":18},{"x":6.85,"y":8.45,"d":20},{"x":7.2,"y":8.45,"d":22},{"x":7.55,"y":8.45,"d":22},{"x":7.9,"y":8.45,"d":20},{"x":8.2,"y":8.45,"d":22},{"x":8.5,"y":8.45,"d":16},{"x":6.6,"y":8.15,"d":22},{"x":6.95,"y":8.15,"d":24},{"x":7.3,"y":8.15,"d":28},{"x":7.65,"y":8.15,"d":30},{"x":8.0,"y":8.15,"d":28},{"x":8.35,"y":8.15,"d":24},{"x":8.7,"y":8.15,"d":18},{"x":5.7,"y":7.85,"d":14},{"x":6.0,"y":7.85,"d":20},{"x":6.3,"y":7.85,"d":26},{"x":6.6,"y":7.85,"d":32},{"x":6.9,"y":7.85,"d":34},{"x":7.2,"y":7.85,"d":36},{"x":7.5,"y":7.85,"d":34},{"x":7.8,"y":7.85,"d":32},{"x":8.15,"y":7.85,"d":26},{"x":8.5,"y":7.85,"d":18},{"x":8.85,"y":7.85,"d":16},{"x":5.6,"y":7.55,"d":14},{"x":5.9,"y":7.55,"d":22},{"x":6.2,"y":7.55,"d":30},{"x":6.5,"y":7.55,"d":36},{"x":6.8,"y":7.55,"d":40},{"x":7.1,"y":7.55,"d":42},{"x":7.4,"y":7.55,"d":38},{"x":7.7,"y":7.55,"d":30},{"x":8.0,"y":7.55,"d":28},{"x":8.3,"y":7.55,"d":26},{"x":8.6,"y":7.55,"d":24},{"x":8.9,"y":7.55,"d":22},{"x":9.2,"y":7.55,"d":20},{"x":9.5,"y":7.55,"d":15},{"x":5.3,"y":7.2,"d":16},{"x":5.65,"y":7.25,"d":20},{"x":6.0,"y":7.25,"d":28},{"x":6.3,"y":7.25,"d":36},{"x":6.6,"y":7.25,"d":44},{"x":6.9,"y":7.25,"d":46},{"x":7.2,"y":7.25,"d":42},{"x":7.5,"y":7.25,"d":34},{"x":7.8,"y":7.25,"d":30},{"x":8.1,"y":7.25,"d":30},{"x":8.4,"y":7.25,"d":28},{"x":8.7,"y":7.25,"d":24},{"x":9.0,"y":7.25,"d":18},{"x":9.3,"y":7.25,"d":12},{"x":5.5,"y":6.95,"d":24},{"x":5.8,"y":6.95,"d":28},{"x":6.1,"y":6.95,"d":36},{"x":6.4,"y":6.95,"d":44},{"x":6.7,"y":6.95,"d":46},{"x":7.0,"y":6.95,"d":42},{"x":7.3,"y":6.95,"d":36},{"x":7.6,"y":6.95,"d":30},{"x":7.9,"y":6.95,"d":28},{"x":8.2,"y":6.95,"d":26},{"x":8.5,"y":6.95,"d":18},{"x":8.8,"y":6.95,"d":12},{"x":5.2,"y":6.65,"d":18},{"x":5.5,"y":6.65,"d":24},{"x":5.8,"y":6.65,"d":32},{"x":6.1,"y":6.65,"d":40},{"x":6.4,"y":6.65,"d":44},{"x":6.7,"y":6.65,"d":40},{"x":7.0,"y":6.65,"d":34},{"x":7.3,"y":6.65,"d":30},{"x":7.6,"y":6.65,"d":26},{"x":7.9,"y":6.65,"d":22},{"x":8.2,"y":6.65,"d":16},{"x":5.6,"y":6.35,"d":22},{"x":5.9,"y":6.35,"d":28},{"x":6.2,"y":6.35,"d":34},{"x":6.5,"y":6.35,"d":34},{"x":6.8,"y":6.35,"d":26},{"x":7.1,"y":6.35,"d":24},{"x":7.4,"y":6.35,"d":22},{"x":7.7,"y":6.35,"d":20},{"x":8.0,"y":6.35,"d":14},{"x":5.9,"y":6.1,"d":22},{"x":6.2,"y":6.1,"d":26},{"x":6.5,"y":6.1,"d":22},{"x":7.0,"y":6.1,"d":16},
{"x":6.75,"y":8.3,"d":22},{"x":7.1,"y":8.3,"d":24},{"x":7.45,"y":8.3,"d":26},{"x":7.8,"y":8.3,"d":26},{"x":8.15,"y":8.3,"d":24},{"x":8.5,"y":8.3,"d":20},{"x":6.45,"y":8.0,"d":24},{"x":6.8,"y":8.0,"d":28},{"x":7.1,"y":8.0,"d":32},{"x":7.45,"y":8.0,"d":34},{"x":7.8,"y":8.0,"d":32},{"x":8.15,"y":8.0,"d":26},{"x":8.5,"y":8.0,"d":18},{"x":8.8,"y":8.0,"d":15},{"x":5.85,"y":7.7,"d":18},{"x":6.15,"y":7.7,"d":24},{"x":6.45,"y":7.7,"d":30},{"x":6.75,"y":7.7,"d":36},{"x":7.05,"y":7.7,"d":40},{"x":7.35,"y":7.7,"d":38},{"x":7.65,"y":7.7,"d":32},{"x":8.0,"y":7.7,"d":28},{"x":8.3,"y":7.7,"d":24},{"x":8.7,"y":7.7,"d":20},{"x":9.05,"y":7.7,"d":20},{"x":5.75,"y":7.4,"d":18},{"x":6.05,"y":7.4,"d":26},{"x":6.35,"y":7.4,"d":34},{"x":6.65,"y":7.4,"d":40},{"x":6.95,"y":7.4,"d":44},{"x":7.25,"y":7.4,"d":42},{"x":7.55,"y":7.4,"d":34},{"x":7.85,"y":7.4,"d":30},{"x":8.15,"y":7.4,"d":30},{"x":8.45,"y":7.4,"d":26},{"x":8.75,"y":7.4,"d":24},{"x":9.05,"y":7.4,"d":20},{"x":9.35,"y":7.4,"d":15},{"x":5.45,"y":7.1,"d":20},{"x":5.8,"y":7.1,"d":26},{"x":6.15,"y":7.1,"d":34},{"x":6.45,"y":7.1,"d":42},{"x":6.75,"y":7.1,"d":48},{"x":7.05,"y":7.1,"d":44},{"x":7.35,"y":7.1,"d":38},{"x":7.65,"y":7.1,"d":32},{"x":7.95,"y":7.1,"d":30},{"x":8.25,"y":7.1,"d":28},{"x":8.55,"y":7.1,"d":22},{"x":8.85,"y":7.1,"d":16},{"x":5.35,"y":6.8,"d":22},{"x":5.65,"y":6.8,"d":28},{"x":5.95,"y":6.8,"d":36},{"x":6.25,"y":6.8,"d":44},{"x":6.55,"y":6.8,"d":46},{"x":6.85,"y":6.8,"d":42},{"x":7.15,"y":6.8,"d":36},{"x":7.45,"y":6.8,"d":30},{"x":7.75,"y":6.8,"d":26},{"x":8.05,"y":6.8,"d":24},{"x":8.35,"y":6.8,"d":16},{"x":5.45,"y":6.5,"d":24},{"x":5.75,"y":6.5,"d":30},{"x":6.05,"y":6.5,"d":38},{"x":6.35,"y":6.5,"d":40},{"x":6.65,"y":6.5,"d":36},{"x":6.95,"y":6.5,"d":30},{"x":7.25,"y":6.5,"d":26},{"x":7.55,"y":6.5,"d":24},{"x":7.85,"y":6.5,"d":20},{"x":8.15,"y":6.5,"d":14},{"x":5.75,"y":6.2,"d":24},{"x":6.05,"y":6.2,"d":30},{"x":6.35,"y":6.2,"d":30},{"x":6.65,"y":6.2,"d":24},{"x":6.95,"y":6.2,"d":20},{"x":7.3,"y":6.2,"d":18},{"x":7.6,"y":6.2,"d":18},
{"x":6.14,"y":2.15,"d":1},{"x":5.94,"y":3.17,"d":3},{"x":5.48,"y":2.17,"d":3},{"x":5.32,"y":2.25,"d":3},{"x":5.12,"y":1.81,"d":3},{"x":4.93,"y":1.78,"d":4},{"x":4.7,"y":1.79,"d":4},{"x":4.42,"y":1.84,"d":5},{"x":4.19,"y":1.84,"d":5},{"x":4.05,"y":1.88,"d":6},{"x":3.6,"y":1.84,"d":9},{"x":3.45,"y":1.93,"d":10},{"x":4.85,"y":2.24,"d":6},{"x":4.66,"y":2.15,"d":7},{"x":4.42,"y":2.1,"d":7},{"x":4.42,"y":2.32,"d":9},{"x":4.85,"y":2.55,"d":9},{"x":4.7,"y":2.49,"d":10},{"x":5.2,"y":3.0,"d":10},{"x":5.2,"y":3.14,"d":11},{"x":5.55,"y":3.54,"d":14},{"x":5.98,"y":3.91,"d":10},{"x":6.0,"y":4.05,"d":12},{"x":3.56,"y":2.15,"d":12},{"x":3.1,"y":1.87,"d":11},{"x":2.94,"y":1.85,"d":12},{"x":2.67,"y":1.87,"d":14},{"x":2.51,"y":1.87,"d":15},
{"x":0.82,"y":2.25,"d":15},{"x":0.93,"y":2.47,"d":17},{"x":0.95,"y":2.81,"d":19},{"x":0.87,"y":3.28,"d":19},{"x":0.87,"y":3.51,"d":17},{"x":0.83,"y":3.74,"d":15},{"x":0.82,"y":3.99,"d":9},{"x":1.07,"y":4.19,"d":11},{"x":1.2,"y":4.6,"d":7},{"x":1.2,"y":4.47,"d":8},{"x":1.81,"y":4.94,"d":9},{"x":2.04,"y":4.84,"d":13},{"x":1.65,"y":4.73,"d":12},{"x":1.46,"y":4.47,"d":14},{"x":2.54,"y":5.21,"d":10},{"x":2.71,"y":5.19,"d":12},{"x":2.86,"y":5.28,"d":13},{"x":3.21,"y":5.12,"d":20},{"x":3.45,"y":5.18,"d":20},{"x":3.8,"y":5.29,"d":18},{"x":4.07,"y":5.27,"d":20},{"x":4.42,"y":5.29,"d":20},{"x":4.85,"y":5.32,"d":20},{"x":5.09,"y":5.32,"d":20},{"x":5.71,"y":5.35,"d":18},{"x":6.12,"y":5.1,"d":17},{"x":6.02,"y":4.73,"d":19},{"x":6.06,"y":4.45,"d":17},{"x":5.87,"y":4.95,"d":18},{"x":4.77,"y":5.12,"d":23},{"x":4.54,"y":5.12,"d":23},
{"x":2.7,"y":4.95,"d":20},{"x":3.1,"y":4.95,"d":22},{"x":3.5,"y":4.95,"d":24},{"x":3.9,"y":4.95,"d":26},{"x":4.3,"y":4.95,"d":24},{"x":4.7,"y":4.95,"d":22},{"x":5.4,"y":4.95,"d":18},{"x":5.7,"y":4.95,"d":18},{"x":1.8,"y":4.65,"d":18},{"x":2.15,"y":4.65,"d":24},{"x":2.5,"y":4.65,"d":28},{"x":2.85,"y":4.65,"d":30},{"x":3.2,"y":4.65,"d":32},{"x":3.55,"y":4.65,"d":32},{"x":3.9,"y":4.65,"d":34},{"x":4.25,"y":4.65,"d":30},{"x":4.6,"y":4.65,"d":28},{"x":4.95,"y":4.65,"d":26},{"x":5.3,"y":4.65,"d":26},{"x":5.65,"y":4.65,"d":22},{"x":5.95,"y":4.65,"d":16},{"x":1.55,"y":4.35,"d":14},{"x":1.85,"y":4.35,"d":22},{"x":2.2,"y":4.35,"d":30},{"x":2.55,"y":4.35,"d":36},{"x":2.9,"y":4.35,"d":38},{"x":3.25,"y":4.35,"d":44},{"x":3.6,"y":4.35,"d":46},{"x":3.95,"y":4.35,"d":44},{"x":4.3,"y":4.35,"d":36},{"x":4.65,"y":4.35,"d":32},{"x":5.0,"y":4.35,"d":32},{"x":5.35,"y":4.35,"d":30},{"x":5.7,"y":4.35,"d":24},{"x":5.95,"y":4.35,"d":16},{"x":1.3,"y":4.05,"d":16},{"x":1.6,"y":4.05,"d":24},{"x":1.9,"y":4.05,"d":30},{"x":2.25,"y":4.05,"d":38},{"x":2.6,"y":4.05,"d":40},{"x":2.95,"y":4.05,"d":44},{"x":3.3,"y":4.05,"d":48},{"x":3.65,"y":4.05,"d":50},{"x":4.0,"y":4.05,"d":48},{"x":4.35,"y":4.05,"d":42},{"x":4.7,"y":4.05,"d":38},{"x":5.05,"y":4.05,"d":36},{"x":5.4,"y":4.05,"d":32},{"x":5.7,"y":4.05,"d":24},{"x":1.0,"y":3.75,"d":16},{"x":1.3,"y":3.75,"d":24},{"x":1.65,"y":3.75,"d":30},{"x":2.0,"y":3.75,"d":36},{"x":2.3,"y":3.75,"d":38},{"x":2.9,"y":3.75,"d":46},{"x":3.25,"y":3.75,"d":48},{"x":3.6,"y":3.75,"d":48},{"x":3.95,"y":3.75,"d":44},{"x":4.3,"y":3.75,"d":40},{"x":4.65,"y":3.75,"d":38},{"x":5.0,"y":3.75,"d":34},{"x":5.3,"y":3.75,"d":30},{"x":5.6,"y":3.7,"d":22},{"x":1.0,"y":3.45,"d":20},{"x":1.35,"y":3.45,"d":28},{"x":1.7,"y":3.45,"d":34},{"x":2.05,"y":3.45,"d":36},{"x":2.4,"y":3.45,"d":36},{"x":2.75,"y":3.45,"d":42},{"x":3.1,"y":3.45,"d":46},{"x":3.45,"y":3.45,"d":44},{"x":3.8,"y":3.45,"d":36},{"x":4.2,"y":3.45,"d":34},{"x":4.55,"y":3.45,"d":36},{"x":4.9,"y":3.45,"d":30},{"x":5.2,"y":3.45,"d":24},{"x":5.4,"y":3.45,"d":18},{"x":1.1,"y":3.15,"d":22},{"x":1.45,"y":3.15,"d":30},{"x":1.8,"y":3.15,"d":32},{"x":2.15,"y":3.15,"d":36},{"x":2.5,"y":3.15,"d":44},{"x":2.85,"y":3.15,"d":46},{"x":3.2,"y":3.15,"d":42},{"x":3.55,"y":3.15,"d":34},{"x":3.9,"y":3.15,"d":28},{"x":4.3,"y":3.15,"d":26},{"x":4.6,"y":3.15,"d":24},{"x":4.9,"y":3.15,"d":22},{"x":5.15,"y":3.15,"d":16},{"x":1.3,"y":2.85,"d":26},{"x":1.6,"y":2.85,"d":30},{"x":1.9,"y":2.85,"d":34},{"x":2.25,"y":2.85,"d":40},{"x":2.6,"y":2.85,"d":44},{"x":2.95,"y":2.85,"d":42},{"x":3.3,"y":2.85,"d":34},{"x":3.6,"y":2.85,"d":28},{"x":3.95,"y":2.85,"d":26},{"x":4.3,"y":2.85,"d":24},{"x":4.6,"y":2.85,"d":18},{"x":4.9,"y":2.85,"d":14},{"x":1.3,"y":2.55,"d":26},{"x":1.6,"y":2.55,"d":30},{"x":1.95,"y":2.55,"d":36},{"x":2.3,"y":2.55,"d":40},{"x":2.65,"y":2.55,"d":38},{"x":3.0,"y":2.55,"d":34},{"x":3.35,"y":2.55,"d":28},{"x":3.65,"y":2.55,"d":20},{"x":4.0,"y":2.55,"d":18},{"x":4.3,"y":2.55,"d":16},{"x":4.5,"y":2.55,"d":13},{"x":1.05,"y":2.3,"d":20},{"x":1.35,"y":2.3,"d":26},{"x":1.7,"y":2.3,"d":30},{"x":2.05,"y":2.3,"d":34},{"x":2.4,"y":2.3,"d":36},{"x":2.75,"y":2.3,"d":34},{"x":3.05,"y":2.3,"d":28},{"x":3.4,"y":2.3,"d":18},{"x":1.2,"y":2.1,"d":22},{"x":1.55,"y":2.1,"d":24},{"x":1.9,"y":2.1,"d":28},{"x":2.25,"y":2.1,"d":28},{"x":2.6,"y":2.1,"d":28},{"x":2.9,"y":2.1,"d":22},{"x":3.2,"y":2.1,"d":16},{"x":2.35,"y":1.95,"d":18},{"x":2.65,"y":1.95,"d":16},
{"x":2.9,"y":5.1,"d":18},{"x":3.3,"y":5.1,"d":20},{"x":3.7,"y":5.1,"d":22},{"x":4.1,"y":5.1,"d":24},{"x":5.3,"y":5.1,"d":18},{"x":5.55,"y":5.1,"d":18},{"x":2.3,"y":4.8,"d":18},{"x":2.6,"y":4.8,"d":22},{"x":2.95,"y":4.8,"d":26},{"x":3.3,"y":4.8,"d":28},{"x":3.7,"y":4.8,"d":30},{"x":4.1,"y":4.8,"d":30},{"x":4.45,"y":4.8,"d":26},{"x":4.85,"y":4.8,"d":24},{"x":5.2,"y":4.8,"d":22},{"x":5.55,"y":4.8,"d":20},{"x":5.85,"y":4.8,"d":16},{"x":1.65,"y":4.5,"d":14},{"x":2.0,"y":4.5,"d":20},{"x":2.35,"y":4.5,"d":26},{"x":2.7,"y":4.5,"d":32},{"x":3.05,"y":4.5,"d":36},{"x":3.4,"y":4.5,"d":38},{"x":3.75,"y":4.5,"d":38},{"x":4.1,"y":4.5,"d":36},{"x":4.45,"y":4.5,"d":30},{"x":4.8,"y":4.5,"d":28},{"x":5.15,"y":4.5,"d":28},{"x":5.5,"y":4.5,"d":26},{"x":5.8,"y":4.5,"d":20},{"x":1.45,"y":4.2,"d":16},{"x":1.75,"y":4.2,"d":22},{"x":2.1,"y":4.2,"d":30},{"x":2.4,"y":4.2,"d":36},{"x":2.75,"y":4.2,"d":40},{"x":3.1,"y":4.2,"d":44},{"x":3.45,"y":4.2,"d":48},{"x":3.8,"y":4.2,"d":48},{"x":4.15,"y":4.2,"d":42},{"x":4.5,"y":4.2,"d":36},{"x":4.85,"y":4.2,"d":34},{"x":5.2,"y":4.2,"d":32},{"x":5.55,"y":4.2,"d":28},{"x":5.85,"y":4.2,"d":18},{"x":1.15,"y":3.9,"d":16},{"x":1.45,"y":3.9,"d":24},{"x":1.8,"y":3.9,"d":30},{"x":2.1,"y":3.9,"d":38},{"x":2.75,"y":3.9,"d":44},{"x":3.1,"y":3.9,"d":46},{"x":3.45,"y":3.9,"d":50},{"x":3.8,"y":3.9,"d":48},{"x":4.15,"y":3.9,"d":44},{"x":4.5,"y":3.9,"d":40},{"x":4.85,"y":3.9,"d":36},{"x":5.2,"y":3.9,"d":32},{"x":5.5,"y":3.9,"d":26},{"x":5.75,"y":3.9,"d":16},{"x":1.15,"y":3.6,"d":22},{"x":1.5,"y":3.6,"d":30},{"x":1.85,"y":3.6,"d":34},{"x":2.2,"y":3.6,"d":36},{"x":2.6,"y":3.6,"d":40},{"x":2.95,"y":3.6,"d":46},{"x":3.3,"y":3.6,"d":48},{"x":3.65,"y":3.6,"d":44},{"x":4.0,"y":3.6,"d":38},{"x":4.4,"y":3.6,"d":38},{"x":4.75,"y":3.6,"d":34},{"x":5.1,"y":3.6,"d":28},{"x":5.4,"y":3.6,"d":20},{"x":0.95,"y":3.3,"d":20},{"x":1.25,"y":3.3,"d":26},{"x":1.6,"y":3.3,"d":32},{"x":1.95,"y":3.3,"d":34},{"x":2.3,"y":3.3,"d":40},{"x":2.65,"y":3.3,"d":44},{"x":3.0,"y":3.3,"d":46},{"x":3.35,"y":3.3,"d":42},{"x":3.7,"y":3.3,"d":32},{"x":4.05,"y":3.3,"d":30},{"x":4.4,"y":3.3,"d":32},{"x":4.75,"y":3.3,"d":28},{"x":5.05,"y":3.3,"d":22},{"x":5.3,"y":3.3,"d":16},{"x":1.0,"y":3.0,"d":20},{"x":1.25,"y":3.0,"d":26},{"x":1.6,"y":3.0,"d":30},{"x":2.0,"y":3.0,"d":36},{"x":2.4,"y":3.0,"d":44},{"x":2.75,"y":3.0,"d":46},{"x":3.1,"y":3.0,"d":42},{"x":3.45,"y":3.0,"d":32},{"x":3.75,"y":3.0,"d":28},{"x":4.1,"y":3.0,"d":24},{"x":4.45,"y":3.0,"d":24},{"x":4.75,"y":3.0,"d":20},{"x":5.0,"y":3.0,"d":16},{"x":1.15,"y":2.7,"d":24},{"x":1.45,"y":2.7,"d":28},{"x":1.75,"y":2.7,"d":32},{"x":2.1,"y":2.7,"d":38},{"x":2.45,"y":2.7,"d":44},{"x":2.8,"y":2.7,"d":42},{"x":3.15,"y":2.7,"d":36},{"x":3.45,"y":2.7,"d":28},{"x":3.8,"y":2.7,"d":22},{"x":4.15,"y":2.7,"d":20},{"x":4.45,"y":2.7,"d":16},{"x":1.15,"y":2.4,"d":22},{"x":1.5,"y":2.4,"d":28},{"x":1.85,"y":2.4,"d":34},{"x":2.2,"y":2.4,"d":38},{"x":2.55,"y":2.4,"d":38},{"x":2.9,"y":2.4,"d":32},{"x":3.2,"y":2.4,"d":26},{"x":3.5,"y":2.4,"d":18},{"x":1.4,"y":2.2,"d":24},{"x":1.75,"y":2.2,"d":28},{"x":2.1,"y":2.2,"d":32},{"x":2.4,"y":2.2,"d":32},{"x":2.75,"y":2.2,"d":30},{"x":3.05,"y":2.2,"d":22},{"x":3.3,"y":2.2,"d":16},{"x":2.05,"y":1.98,"d":18},{"x":2.5,"y":1.95,"d":18},{"x":2.85,"y":1.95,"d":15}
],
"cbar":[
{"v":0,"w":1},{"v":1,"w":2},{"v":2,"w":3},{"v":3,"w":4},{"v":4,"w":5},{"v":5,"w":6},{"v":6,"w":7},{"v":7,"w":8},{"v":8,"w":9},{"v":9,"w":10},{"v":10,"w":11},{"v":11,"w":12},{"v":12,"w":13},{"v":13,"w":14},{"v":14,"w":15},{"v":15,"w":16},{"v":16,"w":17},{"v":17,"w":18},{"v":18,"w":19},{"v":19,"w":20},{"v":20,"w":21},{"v":21,"w":22},{"v":22,"w":23},{"v":23,"w":24},{"v":24,"w":25},{"v":25,"w":26},{"v":26,"w":27},{"v":27,"w":28},{"v":28,"w":29},{"v":29,"w":30},{"v":30,"w":31},{"v":31,"w":32},{"v":32,"w":33},{"v":33,"w":34},{"v":34,"w":35},{"v":35,"w":36},{"v":36,"w":37},{"v":37,"w":38},{"v":38,"w":39},{"v":39,"w":40},{"v":40,"w":41},{"v":41,"w":42},{"v":42,"w":43},{"v":43,"w":44},{"v":44,"w":45},{"v":45,"w":46},{"v":46,"w":47},{"v":47,"w":48},{"v":48,"w":49},{"v":49,"w":50},{"v":50,"w":51},{"v":51,"w":52},{"v":52,"w":53},{"v":53,"w":54},{"v":54,"w":55},{"v":55,"w":56},{"v":56,"w":57},{"v":57,"w":58},{"v":58,"w":59},{"v":59,"w":60},{"v":60,"w":61},{"v":61,"w":62},{"v":62,"w":63},{"v":63,"w":64},{"v":64,"w":65},{"v":65,"w":66},{"v":66,"w":67},{"v":67,"w":68},{"v":68,"w":69},{"v":69,"w":70},{"v":70,"w":71},{"v":71,"w":72},{"v":72,"w":73},{"v":73,"w":74},{"v":74,"w":75},{"v":75,"w":76},{"v":76,"w":77},{"v":77,"w":78},{"v":78,"w":79},{"v":79,"w":80},{"v":80,"w":81},{"v":81,"w":82},{"v":82,"w":83},{"v":83,"w":84},{"v":84,"w":85},{"v":85,"w":86},{"v":86,"w":87},{"v":87,"w":88},{"v":88,"w":89},{"v":89,"w":90},{"v":90,"w":91},{"v":91,"w":92},{"v":92,"w":93},{"v":93,"w":94},{"v":94,"w":95},{"v":95,"w":96},{"v":96,"w":97},{"v":97,"w":98},{"v":98,"w":99},{"v":99,"w":100}
]
},
"hconcat":[
{"width":1309,"height":1440.5,"view":{"stroke":"#000","strokeWidth":3.5},
"encoding":{
"x":{"field":"x","type":"quantitative","scale":{"domain":[0,16],"nice":false},"axis":{"title":"Observed","values":[0,5,10,15],"titlePadding":-2}},
"y":{"field":"y","type":"quantitative","scale":{"domain":[0,16],"nice":false},"axis":{"title":"WRF","values":[0,2,4,6,8,10,12,14,16],"titlePadding":26}}
},
"layer":[
{"data":{"name":"a"},"mark":{"type":"circle","size":729,"opacity":1},"encoding":{"color":{"field":"d","type":"quantitative","legend":null,"scale":{"domain":[0,100],"range":["#5e4fa2","#3288bd","#66c2a5","#abdda4","#e6f598","#ffffbf","#fee08b","#fdae61","#f46d43","#d53e4f","#9e0142"]}},"order":{"field":"d","type":"quantitative"}}},
{"data":{"values":[{"x":0,"y":0},{"x":16,"y":16}]},"mark":{"type":"line","color":"#000","strokeWidth":8,"strokeDash":[31,12]}},
{"data":{"values":[{"x":0,"y":0},{"x":16,"y":11.84}]},"mark":{"type":"line","color":"#000","strokeWidth":8}},
{"data":{"values":[{"x":2.28,"x2":9.1,"y":15.28,"y2":12.36}]},"mark":{"type":"rect","fill":"#fff3e6","stroke":"#ffcc80","strokeWidth":4,"cornerRadius":25},"encoding":{"x2":{"field":"x2"},"y2":{"field":"y2"}}},
{"data":{"values":[{"x":2.555,"y":14.46,"t":"y = 0.74x"},{"x":2.555,"y":13.62,"t":"R=0.75, N=1790"},{"x":2.555,"y":12.8,"t":"RMSE=2.32"}]},"mark":{"type":"text","align":"left","baseline":"alphabetic","fontSize":75},"encoding":{"text":{"field":"t"}}},
{"data":{"values":[{"x":0.53,"y":14.0,"t":"(a)"}]},"mark":{"type":"text","align":"left","baseline":"alphabetic","fontSize":70},"encoding":{"text":{"field":"t"}}}
]},
{"width":66,"height":1440.5,"view":{"stroke":null},
"encoding":{"y":{"field":"v","type":"quantitative","scale":{"domain":[-4.96,104.96],"nice":false},"axis":{"orient":"right","title":null,"values":[0,20,40,60,80,100],"labelPadding":16}}},
"layer":[
{"data":{"name":"cbar"},"mark":{"type":"rect","strokeWidth":1},"encoding":{"x":{"datum":0,"type":"quantitative","scale":{"domain":[0,1],"nice":false},"axis":null},"x2":{"datum":1},"y2":{"field":"w"},"fill":{"field":"v","type":"quantitative","legend":null,"scale":{"domain":[0,100],"range":["#5e4fa2","#3288bd","#66c2a5","#abdda4","#e6f598","#ffffbf","#fee08b","#fdae61","#f46d43","#d53e4f","#9e0142"]}},"stroke":{"field":"v","type":"quantitative","legend":null,"scale":{"domain":[0,100],"range":["#5e4fa2","#3288bd","#66c2a5","#abdda4","#e6f598","#ffffbf","#fee08b","#fdae61","#f46d43","#d53e4f","#9e0142"]}}}},
{"data":{"values":[{"v":100}]},"mark":{"type":"point","filled":false,"shape":"M-1,0L0,-2L1,0","size":4356,"fill":"#9e0142","fillOpacity":1,"stroke":"#000","strokeWidth":3.5,"opacity":1},"encoding":{"x":{"datum":0.5,"type":"quantitative"}}},
{"data":{"values":[{"v":0}]},"mark":{"type":"point","filled":false,"shape":"M-1,0L0,2L1,0","size":4356,"fill":"#5e4fa2","fillOpacity":1,"stroke":"#000","strokeWidth":3.5,"opacity":1},"encoding":{"x":{"datum":0.5,"type":"quantitative"}}},
{"data":{"values":[{"s":0,"v":0,"w":100},{"s":1,"v":0,"w":100}]},"mark":{"type":"rule","color":"#000","strokeWidth":3.5},"encoding":{"x":{"field":"s","type":"quantitative"},"y2":{"field":"w"}}}
]},
{"width":344.7,"height":1440.5,"view":{"stroke":null},"data":{"values":[{"t":""}]},"mark":{"type":"text"},"encoding":{"text":{"field":"t"}}},
{"width":1309,"height":1440.5,"view":{"stroke":"#000","strokeWidth":3.5},
"encoding":{
"x":{"field":"x","type":"quantitative","scale":{"domain":[0,16],"nice":false},"axis":{"title":"Observed","values":[0,5,10,15],"titlePadding":-2}},
"y":{"field":"y","type":"quantitative","scale":{"domain":[0,16],"nice":false},"axis":{"title":"BCRBR","values":[0,2,4,6,8,10,12,14,16],"titlePadding":26}}
},
"layer":[
{"data":{"name":"b"},"mark":{"type":"circle","size":729,"opacity":1},"encoding":{"color":{"field":"d","type":"quantitative","legend":null,"scale":{"domain":[0,100],"range":["#5e4fa2","#3288bd","#66c2a5","#abdda4","#e6f598","#ffffbf","#fee08b","#fdae61","#f46d43","#d53e4f","#9e0142"]}},"order":{"field":"d","type":"quantitative"}}},
{"data":{"values":[{"x":0,"y":0},{"x":16,"y":16}]},"mark":{"type":"line","color":"#000","strokeWidth":8,"strokeDash":[31,12]}},
{"data":{"values":[{"x":0,"y":0},{"x":16,"y":14.56}]},"mark":{"type":"line","color":"#000","strokeWidth":8}},
{"data":{"values":[{"x":2.28,"x2":9.1,"y":15.28,"y2":12.36}]},"mark":{"type":"rect","fill":"#fff3e6","stroke":"#ffcc80","strokeWidth":4,"cornerRadius":25},"encoding":{"x2":{"field":"x2"},"y2":{"field":"y2"}}},
{"data":{"values":[{"x":2.555,"y":14.46,"t":"y = 0.91x"},{"x":2.555,"y":13.62,"t":"R=0.88, N=1790"},{"x":2.555,"y":12.8,"t":"RMSE=1.56"}]},"mark":{"type":"text","align":"left","baseline":"alphabetic","fontSize":75},"encoding":{"text":{"field":"t"}}},
{"data":{"values":[{"x":0.53,"y":14.0,"t":"(b)"}]},"mark":{"type":"text","align":"left","baseline":"alphabetic","fontSize":70},"encoding":{"text":{"field":"t"}}}
]},
{"width":66,"height":1440.5,"view":{"stroke":null},
"encoding":{"y":{"field":"v","type":"quantitative","scale":{"domain":[-4.96,104.96],"nice":false},"axis":{"orient":"right","title":null,"values":[0,20,40,60,80,100],"labelPadding":16}}},
"layer":[
{"data":{"name":"cbar"},"mark":{"type":"rect","strokeWidth":1},"encoding":{"x":{"datum":0,"type":"quantitative","scale":{"domain":[0,1],"nice":false},"axis":null},"x2":{"datum":1},"y2":{"field":"w"},"fill":{"field":"v","type":"quantitative","legend":null,"scale":{"domain":[0,100],"range":["#5e4fa2","#3288bd","#66c2a5","#abdda4","#e6f598","#ffffbf","#fee08b","#fdae61","#f46d43","#d53e4f","#9e0142"]}},"stroke":{"field":"v","type":"quantitative","legend":null,"scale":{"domain":[0,100],"range":["#5e4fa2","#3288bd","#66c2a5","#abdda4","#e6f598","#ffffbf","#fee08b","#fdae61","#f46d43","#d53e4f","#9e0142"]}}}},
{"data":{"values":[{"v":100}]},"mark":{"type":"point","filled":false,"shape":"M-1,0L0,-2L1,0","size":4356,"fill":"#9e0142","fillOpacity":1,"stroke":"#000","strokeWidth":3.5,"opacity":1},"encoding":{"x":{"datum":0.5,"type":"quantitative"}}},
{"data":{"values":[{"v":0}]},"mark":{"type":"point","filled":false,"shape":"M-1,0L0,2L1,0","size":4356,"fill":"#5e4fa2","fillOpacity":1,"stroke":"#000","strokeWidth":3.5,"opacity":1},"encoding":{"x":{"datum":0.5,"type":"quantitative"}}},
{"data":{"values":[{"s":0,"v":0,"w":100},{"s":1,"v":0,"w":100}]},"mark":{"type":"rule","color":"#000","strokeWidth":3.5},"encoding":{"x":{"field":"s","type":"quantitative"},"y2":{"field":"w"}}}
]}
]
}
